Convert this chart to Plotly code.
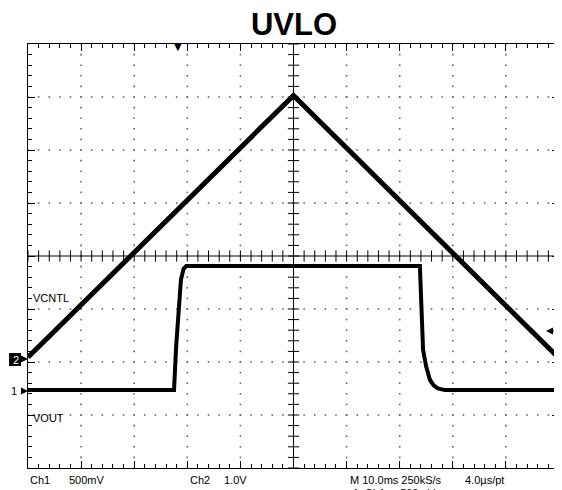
import plotly.graph_objects as go

# ---- data (in scope divisions: x 0..10, y 0..8) ----
vcntl_x = [0.0, 5.0, 10.0]
vcntl_y = [2.09, 7.03, 2.07]

vout_x = [0.0, 2.75, 2.79, 2.83, 2.88, 2.93, 2.98, 7.38, 7.40, 7.42, 7.44, 7.50, 7.57, 7.64, 7.72, 7.85, 10.0]
vout_y = [1.47, 1.47, 2.3, 2.96, 3.55, 3.76, 3.81, 3.81, 3.3, 2.6, 2.23, 1.91, 1.66, 1.56, 1.50, 1.47, 1.47]

bottom_labels = ["Ch1", "500mV", "Ch2", "1.0V", "M 10.0ms 250kS/s", "4.0\u00b5s/pt"]
bottom_px = [28, 67, 188, 222, 348, 463]

# page has an 8px body margin; the figure is sized to fill the rest of the window
OFF = 8
RL, RR, RT, RB = 28, 559, 44, 468   # screen box in window pixels
W, H = 562 - OFF, 490 - OFF

def px(xr):
    return (xr - RL) / (RR - RL)

def py(yr):
    return (RB - yr) / (RB - RT)

fig = go.Figure()

# dotted graticule
gx, gy = [], []
for i in range(1, 10):
    if i == 5:
        continue
    for k in range(0, 41):
        gx.append(i); gy.append(k * 0.2)
for j in range(1, 8):
    if j == 4:
        continue
    for k in range(0, 51):
        gx.append(k * 0.2); gy.append(j)
fig.add_trace(go.Scatter(x=gx, y=gy, mode="markers", hoverinfo="skip",
                         marker=dict(symbol="square", size=1.6, color="#666666", line=dict(width=0)),
                         showlegend=False))

# center cross ticks
cx = [k * 0.2 for k in range(51)]
fig.add_trace(go.Scatter(x=cx, y=[4] * len(cx), mode="markers", hoverinfo="skip",
                         marker=dict(symbol="line-ns", size=8, line=dict(width=1, color="black")),
                         showlegend=False))
cy = [k * 0.2 for k in range(41)]
fig.add_trace(go.Scatter(x=[5] * len(cy), y=cy, mode="markers", hoverinfo="skip",
                         marker=dict(symbol="line-ew", size=8, line=dict(width=1, color="black")),
                         showlegend=False))

# signals
fig.add_trace(go.Scatter(x=vcntl_x, y=vcntl_y, mode="lines", line=dict(color="black", width=5),
                         showlegend=False))
fig.add_trace(go.Scatter(x=vout_x, y=vout_y, mode="lines", line=dict(color="black", width=4),
                         showlegend=False))

shapes = [
    dict(type="line", xref="x", yref="y", x0=5, x1=5, y0=0, y1=8, line=dict(color="black", width=1)),
    dict(type="line", xref="x", yref="y", x0=0, x1=10, y0=4, y1=4, line=dict(color="black", width=1)),
    # channel 2 marker box
    dict(type="rect", xref="paper", yref="paper", x0=px(9), x1=px(21), y0=py(353), y1=py(366),
         fillcolor="black", line=dict(width=0)),
]
fig.update_layout(shapes=shapes)

font_small = dict(family="Liberation Sans Narrow, Liberation Sans, Arial", size=11, color="black")
ann = []
def A(**kw):
    kw.setdefault("xref", "paper")
    kw.setdefault("yref", "paper")
    ann.append(kw)

A(x=px(15.5), y=py(359.5), text="2", showarrow=False,
  font=dict(family="Liberation Sans", size=11, color="white"), xanchor="center", yanchor="middle")
A(x=px(28), y=py(359), ax=-7, ay=0, text="", showarrow=True,
  arrowhead=2, arrowsize=1.4, arrowwidth=1, arrowcolor="black")
A(x=px(14), y=py(391), text="1", showarrow=False,
  font=dict(family="Liberation Sans", size=11, color="black"), xanchor="center", yanchor="middle")
A(x=px(28), y=py(391), ax=-8, ay=0, text="", showarrow=True,
  arrowhead=2, arrowsize=1.4, arrowwidth=1, arrowcolor="black")
A(x=px(546), y=py(331), ax=12, ay=0, text="", showarrow=True,
  arrowhead=2, arrowsize=1.4, arrowwidth=1, arrowcolor="black")
A(x=px(31), y=py(298), text="VCNTL", showarrow=False, font=font_small, xanchor="left", yanchor="middle")
A(x=px(31), y=py(418), text="VOUT", showarrow=False, font=font_small, xanchor="left", yanchor="middle")
# trigger marker
A(x=px(178), y=py(47), text="\u25bc", showarrow=False,
  font=dict(family="DejaVu Sans", size=10, color="black"), xanchor="center", yanchor="middle")
for t, p in zip(bottom_labels, bottom_px):
    A(x=px(p), y=py(480), text=t, showarrow=False, font=font_small, xanchor="left", yanchor="middle")
A(x=px(350), y=py(493), text="A  Ch1 \u2197 500mV", showarrow=False, font=font_small,
  xanchor="left", yanchor="middle")
fig.update_layout(annotations=ann)

axis_common = dict(showgrid=False, zeroline=False, showticklabels=False, showline=True, linecolor="black",
                   linewidth=1, mirror="ticks", ticks="inside", ticklen=7, tickcolor="black", tickwidth=1)
fig.update_xaxes(range=[0, 10], dtick=1, tick0=0,
                 minor=dict(dtick=0.2, tick0=0, ticks="inside", ticklen=4, tickcolor="black", showgrid=False),
                 **axis_common)
fig.update_yaxes(range=[0, 8], dtick=1, tick0=0,
                 minor=dict(dtick=0.2, tick0=0, ticks="inside", ticklen=4, tickcolor="black", showgrid=False),
                 **axis_common)

fig.update_layout(
    width=W, height=H,
    margin=dict(l=RL - OFF, r=562 - RR, t=RT - OFF, b=490 - RB, autoexpand=False),
    paper_bgcolor="white", plot_bgcolor="white",
    title=dict(text="<b>UVLO</b>", x=(294 - OFF) / W, xanchor="center", y=1 - (24 - OFF) / H,
               yanchor="middle", font=dict(family="Liberation Sans, Arial", size=31, color="black")),
)

fig.write_html("out.html")
